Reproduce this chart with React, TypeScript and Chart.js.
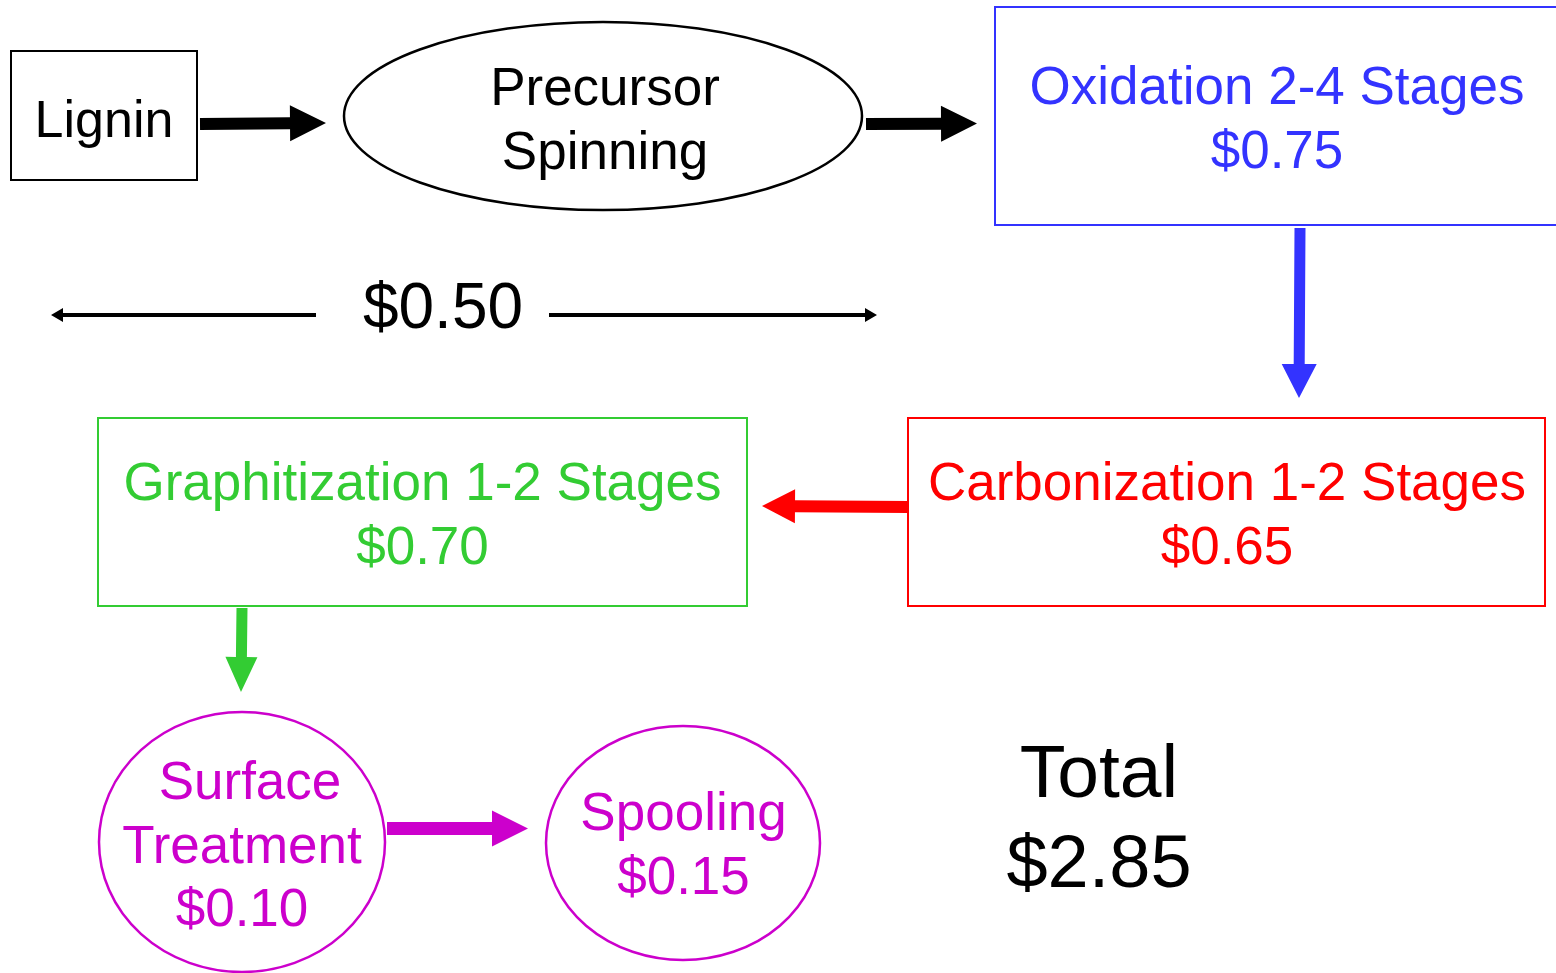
import React, { useEffect, useRef } from 'react';
import { Chart, registerables } from 'chart.js';

Chart.register(...registerables);

// ---- data ----
const stageLines: string[][] = [
  ['Lignin'],
  ['Precursor', 'Spinning'],
  ['Oxidation 2-4 Stages'],
  ['Carbonization 1-2 Stages'],
  ['Graphitization 1-2 Stages'],
  ['Surface', 'Treatment'],
  ['Spooling'],
];
const stageCosts: (number | null)[] = [null, null, 0.75, 0.65, 0.7, 0.1, 0.15];
const spinningCost = 0.5;
const totalLabel = 'Total';
const totalCost = 2.85;

// ---- layout (diagram units) ----
const W = 1556;
const H = 973;
const nodeShape = ['rect', 'ellipse', 'rect', 'rect', 'rect', 'ellipse', 'ellipse'];
const nodeCx = [104, 603, 1277, 1226.5, 422.5, 242, 683];
const nodeCy = [115.5, 116, 116, 512, 512, 842, 843];
const nodeHalfW = [93, 259, 282, 318.5, 324.5, 143, 137];
const nodeHalfH = [64.5, 94, 109, 94, 94, 130, 117];
const nodeColor = ['#000000', '#000000', '#3333FF', '#FF0000', '#33CC33', '#CC00CC', '#CC00CC'];
const nodeTextX = [104, 605, 1277, 1227, 422.5, 242, 683.5];
const firstLineShift = [0, 0, 0, 0, 0, 8, 0];
const nodeBaseline = [137, 105, 104, 500, 500, 799, 830];
const lineGap = 63.5;

// arrows: x1,y1,x2,y2 (tip), shaft width, head length, head width
const arrows: [number, number, number, number, number, number, number, string][] = [
  [200, 124, 326, 123, 12, 36, 36, '#000000'],
  [866, 124, 977, 123.5, 12, 36, 36, '#000000'],
  [1300, 228, 1299, 398, 11, 34, 35, '#3333FF'],
  [908, 507, 762, 506, 12, 33, 34, '#FF0000'],
  [242, 608, 241, 692, 11, 35, 32, '#33CC33'],
  [387, 828.5, 528, 828.5, 13, 36, 36, '#CC00CC'],
];

const FONT = '"Liberation Sans", Arial, Helvetica, sans-serif';

function fmt(v: number) {
  return '$' + v.toFixed(2);
}

const diagramPlugin = {
  id: 'diagram',
  afterDatasetsDraw(chart: any) {
    const ctx: CanvasRenderingContext2D = chart.ctx;
    const xs = chart.scales.x;
    const ys = chart.scales.y;
    const px = (v: number) => xs.getPixelForValue(v);
    const py = (v: number) => ys.getPixelForValue(v);
    const dx = (v: number) => Math.abs(xs.getPixelForValue(v) - xs.getPixelForValue(0));
    const dy = (v: number) => Math.abs(ys.getPixelForValue(v) - ys.getPixelForValue(0));
    ctx.save();
    ctx.fillStyle = '#ffffff';
    ctx.fillRect(0, 0, chart.width, chart.height);

    // nodes
    stageLines.forEach((lines, i) => {
      const cx = px(nodeCx[i]);
      const cy = py(nodeCy[i]);
      const hw = dx(nodeHalfW[i]);
      const hh = dy(nodeHalfH[i]);
      ctx.strokeStyle = nodeColor[i];
      ctx.lineWidth = nodeShape[i] === 'ellipse' ? 2.5 : 2;
      ctx.beginPath();
      if (nodeShape[i] === 'ellipse') {
        ctx.ellipse(cx, cy, hw, hh, 0, 0, Math.PI * 2);
      } else {
        ctx.rect(cx - hw, cy - hh, hw * 2, hh * 2);
      }
      ctx.stroke();

      const texts = [...lines];
      const c = stageCosts[i];
      if (c !== null) texts.push(fmt(c));
      ctx.fillStyle = nodeColor[i];
      ctx.font = `${i === 0 ? 52 : 53}px ${FONT}`;
      ctx.textAlign = 'center';
      ctx.textBaseline = 'alphabetic';
      texts.forEach((t, k) => {
        const sx = k === 0 ? firstLineShift[i] : 0;
        ctx.fillText(t, px(nodeTextX[i] + sx), py(nodeBaseline[i] + k * lineGap));
      });
    });

    // thick arrows
    arrows.forEach(([x1, y1, x2, y2, sw, hl, hwd, col]) => {
      const ax = px(x1), ay = py(y1), bx = px(x2), by = py(y2);
      const ang = Math.atan2(by - ay, bx - ax);
      const len = Math.hypot(bx - ax, by - ay);
      ctx.save();
      ctx.translate(ax, ay);
      ctx.rotate(ang);
      ctx.fillStyle = col;
      ctx.beginPath();
      ctx.moveTo(0, -sw / 2);
      ctx.lineTo(len - hl, -sw / 2);
      ctx.lineTo(len - hl, -hwd / 2);
      ctx.lineTo(len, 0);
      ctx.lineTo(len - hl, hwd / 2);
      ctx.lineTo(len - hl, sw / 2);
      ctx.lineTo(0, sw / 2);
      ctx.closePath();
      ctx.fill();
      ctx.restore();
    });

    // $0.50 span arrows
    const ly = py(315);
    ctx.strokeStyle = '#000';
    ctx.fillStyle = '#000';
    ctx.lineWidth = 4;
    ctx.beginPath();
    ctx.moveTo(px(316), ly);
    ctx.lineTo(px(60), ly);
    ctx.moveTo(px(549), ly);
    ctx.lineTo(px(868), ly);
    ctx.stroke();
    ctx.beginPath();
    ctx.moveTo(px(51), ly);
    ctx.lineTo(px(63), ly - 7);
    ctx.lineTo(px(63), ly + 7);
    ctx.closePath();
    ctx.moveTo(px(877), ly);
    ctx.lineTo(px(865), ly - 7);
    ctx.lineTo(px(865), ly + 7);
    ctx.closePath();
    ctx.fill();

    ctx.font = `64px ${FONT}`;
    ctx.textAlign = 'center';
    ctx.fillText(fmt(spinningCost), px(443), py(328));

    // total
    ctx.font = `75px ${FONT}`;
    ctx.fillText(totalLabel, px(1099), py(797));
    ctx.font = `74px ${FONT}`;
    ctx.fillText(fmt(totalCost), px(1099), py(887));
    ctx.restore();
  },
};

export default function App() {
  const ref = useRef<HTMLCanvasElement | null>(null);
  useEffect(() => {
    document.body.style.margin = '0';
    if (!ref.current) return;
    const chart = new Chart(ref.current, {
      type: 'scatter',
      data: {
        datasets: [
          {
            data: nodeCx.map((x, i) => ({ x, y: nodeCy[i] })),
            pointRadius: 0,
            showLine: false,
          },
        ],
      },
      options: {
        responsive: false,
        animation: false,
        layout: { padding: 0 },
        plugins: { legend: { display: false }, tooltip: { enabled: false } },
        scales: {
          x: { type: 'linear', min: 0, max: W, display: false },
          y: { type: 'linear', min: 0, max: H, reverse: true, display: false },
        },
      },
      plugins: [diagramPlugin],
    });
    return () => chart.destroy();
  }, []);
  return (
    <div style={{ width: W, height: H, background: '#fff' }}>
      <canvas ref={ref} width={W} height={H} style={{ display: 'block' }} />
    </div>
  );
}
